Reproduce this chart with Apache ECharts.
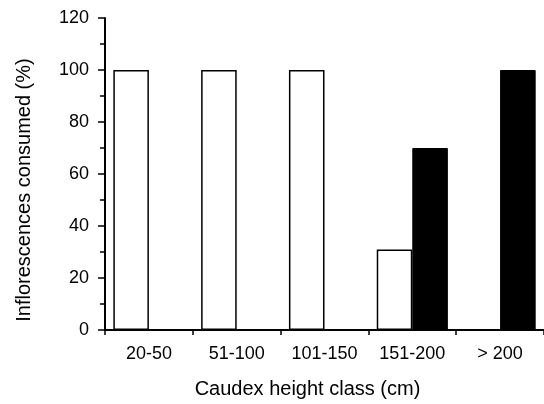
<!DOCTYPE html>
<html>
<head>
<meta charset="utf-8">
<script src="https://cdn.jsdelivr.net/npm/echarts@6/dist/echarts.min.js"></script>
<style>
    html, body { margin: 0; padding: 0; background: #fff; }
    #chart { width: 544px; height: 404px; }
</style>
</head>
<body>
<div id="chart"></div>
<script>

// Data
// ------------------------------

var heightClasses = ['20-50', '51-100', '101-150', '151-200', '> 200'];
var openBars = [100, 100, 100, 31, null];
var filledBars = [null, null, null, 70, 100];
var yTicks = [0, 20, 40, 60, 80, 100, 120];


// Chart
// ------------------------------

var chart_element = document.getElementById('chart');
var chart = echarts.init(chart_element, null, { renderer: 'canvas' });

var font = '"Liberation Sans", Arial, Helvetica, sans-serif';

chart.setOption({
    animation: false,
    textStyle: { fontFamily: font, color: '#000' },

    grid: { left: 105, right: -2, top: 18, bottom: 71 },

    xAxis: {
        type: 'category',
        data: heightClasses,
        name: 'Caudex height class (cm)',
        nameLocation: 'middle',
        nameGap: 49,
        nameTextStyle: { fontSize: 20, color: '#000', fontFamily: font, padding: [0, 34, 0, 0] },
        axisLine: { lineStyle: { color: '#000', width: 2 } },
        axisTick: { show: true, inside: false, length: 5, lineStyle: { color: '#000', width: 1.5 } },
        axisLabel: { fontSize: 18, color: '#000', margin: 15, fontFamily: font }
    },

    yAxis: {
        type: 'value',
        min: yTicks[0],
        max: yTicks[yTicks.length - 1],
        interval: 20,
        name: 'Inflorescences consumed (%)',
        nameLocation: 'middle',
        nameRotate: 90,
        nameGap: 71,
        nameTextStyle: { fontSize: 20, color: '#000', fontFamily: font, padding: [0, 32, 0, 0] },
        axisLine: { show: true, lineStyle: { color: '#000', width: 2 } },
        axisTick: { show: true, inside: false, length: 7, lineStyle: { color: '#000', width: 1.5 } },
        minorTick: { show: true, splitNumber: 2, length: 5, lineStyle: { color: '#000', width: 1.5 } },
        splitLine: { show: false },
        axisLabel: { fontSize: 18, color: '#000', margin: 16, fontFamily: font }
    },

    series: [
        {
            type: 'bar',
            data: openBars,
            barGap: '0%',
            barCategoryGap: '19%',
            itemStyle: { color: '#fff', borderColor: '#000', borderWidth: 1.5 }
        },
        {
            type: 'bar',
            data: filledBars,
            itemStyle: { color: '#000', borderColor: '#000', borderWidth: 1 }
        }
    ]
});

</script>
</body>
</html>
